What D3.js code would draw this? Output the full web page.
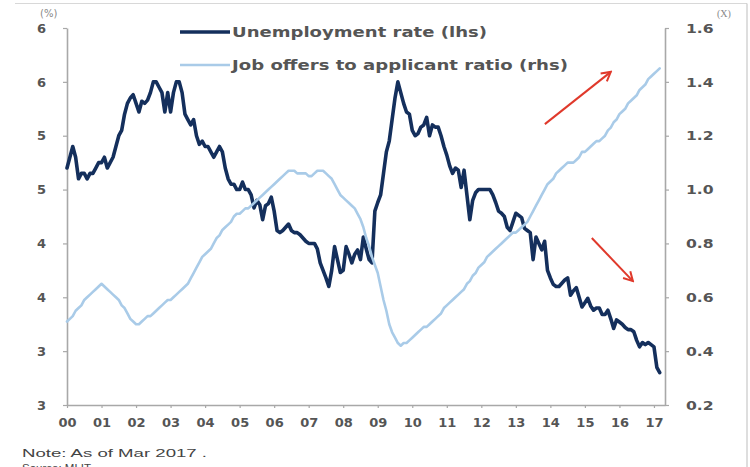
<!DOCTYPE html>
<html>
<head>
<meta charset="utf-8">
<script src="https://cdn.jsdelivr.net/npm/d3@7"></script>
<style>
  html, body { margin: 0; padding: 0; background: #fff; }
  svg { display: block; font-family: "DejaVu Sans", "Liberation Sans", sans-serif; }
</style>
</head>
<body>
<svg id="chart" width="750" height="467"></svg>
<script>
// Monthly series, Jan 2000 – Mar 2017
const firstYear = 2000;

// Unemployment rate, % (left axis)
const unemploymentRate = [
  4.70, 4.80, 4.90, 4.80, 4.60, 4.65, 4.65, 4.60, 4.65, 4.65, 4.70, 4.75, // 2000
  4.75, 4.80, 4.70, 4.75, 4.80, 4.90, 5.00, 5.05, 5.20, 5.30, 5.35, 5.38, // 2001
  5.30, 5.22, 5.32, 5.30, 5.33, 5.40, 5.50, 5.50, 5.45, 5.40, 5.22, 5.40, // 2002
  5.22, 5.40, 5.50, 5.50, 5.40, 5.20, 5.15, 5.10, 5.15, 5.00, 4.92, 4.95, // 2003
  4.90, 4.90, 4.85, 4.80, 4.85, 4.90, 4.85, 4.70, 4.60, 4.55, 4.55, 4.50, // 2004
  4.50, 4.57, 4.50, 4.50, 4.45, 4.33, 4.40, 4.36, 4.22, 4.35, 4.37, 4.43, // 2005
  4.30, 4.12, 4.10, 4.12, 4.15, 4.18, 4.12, 4.10, 4.10, 4.08, 4.05, 4.02, // 2006
  4.00, 4.00, 4.00, 3.95, 3.82, 3.75, 3.68, 3.60, 3.75, 3.97, 3.85, 3.73, // 2007
  3.75, 3.97, 3.90, 3.82, 3.90, 3.94, 3.85, 4.06, 3.95, 3.85, 3.82, 4.30, // 2008
  4.38, 4.45, 4.65, 4.85, 4.95, 5.15, 5.35, 5.50, 5.40, 5.30, 5.22, 5.20, // 2009
  5.05, 5.00, 5.02, 5.08, 5.10, 5.17, 5.00, 5.10, 5.08, 5.08, 5.00, 4.90, // 2010
  4.82, 4.72, 4.65, 4.70, 4.68, 4.52, 4.68, 4.45, 4.22, 4.40, 4.47, 4.50, // 2011
  4.50, 4.50, 4.50, 4.50, 4.45, 4.38, 4.30, 4.28, 4.25, 4.15, 4.12, 4.20, // 2012
  4.28, 4.26, 4.24, 4.14, 4.12, 4.10, 3.85, 4.06, 4.00, 3.94, 4.02, 3.75, // 2013
  3.68, 3.62, 3.60, 3.60, 3.63, 3.66, 3.68, 3.52, 3.56, 3.59, 3.50, 3.41, // 2014
  3.45, 3.49, 3.42, 3.38, 3.40, 3.40, 3.34, 3.34, 3.38, 3.30, 3.21, 3.29, // 2015
  3.27, 3.25, 3.22, 3.20, 3.20, 3.18, 3.10, 3.04, 3.08, 3.06, 3.08, 3.06, // 2016
  3.04, 2.85, 2.80                                                        // 2017
];

// Job offers to applicant ratio, x (right axis)
const jobOffersRatio = [
  0.51, 0.52, 0.53, 0.55, 0.56, 0.57, 0.59, 0.60, 0.61, 0.62, 0.63, 0.64, // 2000
  0.65, 0.64, 0.63, 0.62, 0.61, 0.60, 0.59, 0.57, 0.56, 0.54, 0.52, 0.51, // 2001
  0.50, 0.50, 0.51, 0.52, 0.53, 0.53, 0.54, 0.55, 0.56, 0.57, 0.58, 0.59, // 2002
  0.59, 0.60, 0.61, 0.62, 0.63, 0.64, 0.65, 0.67, 0.69, 0.71, 0.73, 0.75, // 2003
  0.76, 0.77, 0.78, 0.80, 0.82, 0.83, 0.85, 0.86, 0.87, 0.88, 0.90, 0.91, // 2004
  0.91, 0.92, 0.93, 0.93, 0.94, 0.95, 0.96, 0.97, 0.98, 0.99, 1.00, 1.01, // 2005
  1.02, 1.03, 1.04, 1.05, 1.06, 1.07, 1.07, 1.07, 1.06, 1.06, 1.06, 1.06, // 2006
  1.05, 1.05, 1.06, 1.07, 1.07, 1.07, 1.06, 1.05, 1.04, 1.02, 1.00, 0.98, // 2007
  0.97, 0.96, 0.95, 0.94, 0.93, 0.91, 0.89, 0.86, 0.82, 0.79, 0.75, 0.72, // 2008
  0.69, 0.64, 0.59, 0.55, 0.50, 0.47, 0.45, 0.43, 0.42, 0.43, 0.43, 0.44, // 2009
  0.45, 0.46, 0.47, 0.48, 0.49, 0.49, 0.50, 0.51, 0.52, 0.53, 0.54, 0.56, // 2010
  0.57, 0.58, 0.59, 0.60, 0.61, 0.62, 0.63, 0.65, 0.66, 0.68, 0.69, 0.71, // 2011
  0.72, 0.73, 0.75, 0.76, 0.77, 0.78, 0.79, 0.80, 0.81, 0.82, 0.83, 0.84, // 2012
  0.84, 0.85, 0.86, 0.87, 0.88, 0.90, 0.92, 0.94, 0.96, 0.98, 1.00, 1.02, // 2013
  1.03, 1.04, 1.06, 1.07, 1.08, 1.09, 1.10, 1.10, 1.10, 1.11, 1.12, 1.14, // 2014
  1.14, 1.15, 1.16, 1.17, 1.18, 1.18, 1.19, 1.20, 1.22, 1.23, 1.25, 1.26, // 2015
  1.28, 1.29, 1.30, 1.32, 1.33, 1.34, 1.35, 1.37, 1.38, 1.39, 1.41, 1.42, // 2016
  1.43, 1.44, 1.45                                                        // 2017
];

const yearTicks = d3.range(2000, 2018);
const leftTicks = [6, 5.5, 5, 4.5, 4, 3.5, 3, 2.5];
const leftTickLabels = ["6", "6", "5", "5", "4", "4", "3", "3"];
const rightTicks = [0.2, 0.4, 0.6, 0.8, 1.0, 1.2, 1.4, 1.6];
const seriesNames = ["Unemployment rate (lhs)", "Job offers to applicant ratio (rhs)"];

// Trend arrows, in (year, ratio) coordinates on the right axis
const trendArrows = [
  { from: [2013.84, 1.243], to: [2015.75, 1.437] },
  { from: [2015.20, 0.82], to: [2016.39, 0.66] }
];

const svg = d3.select("#chart");
const plot = { left: 67, right: 665, top: 28, bottom: 405 };

const x = d3.scaleLinear().domain([2000, 2017.32]).range([plot.left, plot.right]);
const yLeft = d3.scaleLinear().domain([2.5, 6]).range([plot.bottom, plot.top]);
const yRight = d3.scaleLinear().domain([0.2, 1.6]).range([plot.bottom, plot.top]);

const axisColor = "#a8a8a8";
const labelColor = "#555";
const darkBlue = "#142f5c";
const lightBlue = "#a9cbe8";

// panel frame
svg.append("line").attr("x1", 15).attr("x2", 747).attr("y1", 3.5).attr("y2", 3.5)
  .attr("stroke", "#d8d8d8").attr("stroke-width", 1);
svg.append("line").attr("x1", 747).attr("x2", 747).attr("y1", 3.5).attr("y2", 467)
  .attr("stroke", "#c8c8c8").attr("stroke-width", 1.2);

function styleAxis(g) {
  g.select(".domain").attr("stroke", axisColor).attr("stroke-width", 1.6);
  g.selectAll(".tick line").attr("stroke", axisColor).attr("stroke-width", 1.2);
  g.selectAll(".tick text")
    .attr("fill", labelColor)
    .attr("font-size", 13)
    .attr("font-weight", "bold")
    .attr("font-family", "DejaVu Sans, sans-serif");
}

// axes
const gLeft = svg.append("g").attr("transform", `translate(${plot.left},0)`)
  .call(d3.axisLeft(yLeft).tickValues(leftTicks)
    .tickFormat((d, i) => leftTickLabels[i]).tickSize(4).tickPadding(17).tickSizeOuter(0));
styleAxis(gLeft);

const gRight = svg.append("g").attr("transform", `translate(${plot.right},0)`)
  .call(d3.axisRight(yRight).tickValues(rightTicks)
    .tickFormat(d3.format(".1f")).tickSize(4).tickPadding(17).tickSizeOuter(0));
styleAxis(gRight);
gRight.selectAll(".tick text").each(function () {
  const w = this.getComputedTextLength();
  d3.select(this).attr("textLength", w * 1.2).attr("lengthAdjust", "spacingAndGlyphs");
});

const gBottom = svg.append("g").attr("transform", `translate(0,${plot.bottom})`)
  .call(d3.axisBottom(x).tickValues(yearTicks)
    .tickFormat(d => String(d % 100).padStart(2, "0")).tickSize(3).tickPadding(10).tickSizeOuter(0));
styleAxis(gBottom);

// unit captions
svg.append("text").attr("x", 40).attr("y", 17).text("(%)")
  .attr("font-size", 10).attr("fill", "#888");
svg.append("text").attr("x", 717).attr("y", 17).text("(X)")
  .attr("font-size", 10).attr("fill", "#888").attr("font-family", "Liberation Serif, serif");

// series lines
const monthX = (d, i) => x(firstYear + i / 12);

svg.append("path")
  .datum(unemploymentRate)
  .attr("fill", "none")
  .attr("stroke", darkBlue)
  .attr("stroke-width", 3.6)
  .attr("stroke-linejoin", "round")
  .attr("stroke-linecap", "round")
  .attr("d", d3.line().x(monthX).y(d => yLeft(d)));

svg.append("path")
  .datum(jobOffersRatio)
  .attr("fill", "none")
  .attr("stroke", lightBlue)
  .attr("stroke-width", 2.6)
  .attr("stroke-linejoin", "round")
  .attr("stroke-linecap", "round")
  .attr("d", d3.line().x(monthX).y(d => yRight(d)));

// legend
const legendRows = [
  { name: seriesNames[0], color: darkBlue, width: 3.6, y: 32, len: 255 },
  { name: seriesNames[1], color: lightBlue, width: 2.6, y: 65, len: 336 }
];
const legend = svg.append("g");
legendRows.forEach(r => {
  legend.append("line").attr("x1", 180).attr("x2", 230).attr("y1", r.y).attr("y2", r.y)
    .attr("stroke", r.color).attr("stroke-width", r.width);
  legend.append("text").attr("x", 232).attr("y", r.y + 5)
    .attr("font-size", 13.5).attr("font-weight", "bold").attr("fill", labelColor)
    .attr("textLength", r.len).attr("lengthAdjust", "spacingAndGlyphs")
    .text(r.name);
});

// trend arrows
const defs = svg.append("defs");
defs.append("marker")
  .attr("id", "arrowHead").attr("viewBox", "0 0 12 12")
  .attr("refX", 10).attr("refY", 6)
  .attr("markerWidth", 12).attr("markerHeight", 12)
  .attr("markerUnits", "userSpaceOnUse")
  .attr("orient", "auto")
  .append("path").attr("d", "M1,1 L10,6 L1,11")
  .attr("fill", "none").attr("stroke", "#e0392b").attr("stroke-width", 2);

svg.selectAll(".trend")
  .data(trendArrows).join("line")
  .attr("class", "trend")
  .attr("x1", d => x(d.from[0])).attr("y1", d => yRight(d.from[1]))
  .attr("x2", d => x(d.to[0])).attr("y2", d => yRight(d.to[1]))
  .attr("stroke", "#e0392b").attr("stroke-width", 2)
  .attr("marker-end", "url(#arrowHead)");

// footnotes
svg.append("text").attr("x", 22).attr("y", 457)
  .attr("font-size", 11.5).attr("fill", "#444")
  .attr("font-family", "Liberation Sans, Arial, sans-serif")
  .attr("textLength", 185).attr("lengthAdjust", "spacingAndGlyphs")
  .text("Note: As of  Mar 2017 .");
svg.append("text").attr("x", 22).attr("y", 472)
  .attr("font-size", 11.5).attr("fill", "#444")
  .attr("font-family", "Liberation Sans, Arial, sans-serif")
  .text("Source: MLIT");
</script>
</body>
</html>
